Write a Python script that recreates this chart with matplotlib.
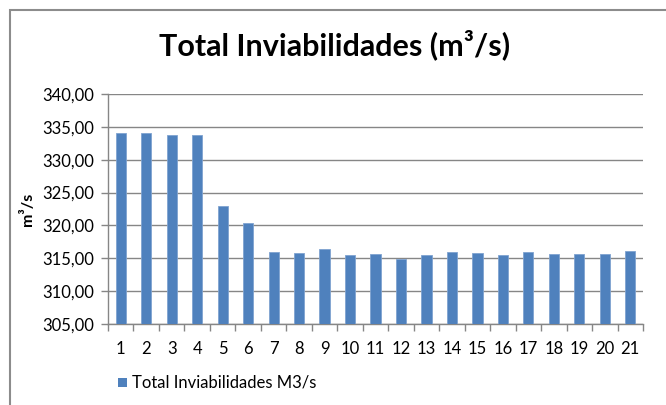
import numpy as np
import matplotlib.pyplot as plt
from matplotlib.patches import Rectangle
from matplotlib.ticker import FixedLocator, FuncFormatter

# data
periods = list(range(1, 22))
values = [334.0, 334.0, 333.8, 333.8, 323.0, 320.4, 316.0, 315.8, 316.4, 315.55,
          315.7, 314.95, 315.55, 315.95, 315.8, 315.55, 315.95, 315.7, 315.7, 315.7, 316.1]
y_ticks = [305, 310, 315, 320, 325, 330, 335, 340]

plt.rcParams['font.family'] = ['Lato', 'DejaVu Sans']

W, H = 666, 405
fig = plt.figure(figsize=(W / 100, H / 100), dpi=100)
ax = fig.add_axes([108 / W, 1 - 324 / H, (643 - 108) / W, (324 - 94) / H])

# outer chart border (cut off at right and bottom)
fig.patches.append(Rectangle((10 / W, -0.1), 1.2, 1 - 10 / H + 0.1,
                             transform=fig.transFigure, fill=False,
                             edgecolor='#8c8c8c', lw=1.5))

ax.bar(periods, [v - 305 for v in values], bottom=305, width=0.4,
       color='#4f81bd', edgecolor='#7fa3d0', linewidth=0.6, zorder=3)

ax.set_xlim(0.5, 21.5)
ax.set_ylim(305, 340)
ax.set_yticks(y_ticks)
ax.yaxis.set_major_formatter(FuncFormatter(lambda v, p: f"{v:.2f}".replace('.', ',')))
ax.set_xticks(periods)
ax.xaxis.set_minor_locator(FixedLocator(np.arange(0.5, 22, 1)))
ax.tick_params(axis='x', which='major', length=0, pad=12, labelsize=12, colors='#000000')
ax.tick_params(axis='x', which='minor', length=5, color='#868686', width=1)
ax.tick_params(axis='y', length=5, color='#868686', width=1, labelsize=12, pad=5)
ax.grid(axis='y', color='#868686', lw=1, zorder=0)

for s in ['top', 'right']:
    ax.spines[s].set_visible(False)
for s in ['left', 'bottom']:
    ax.spines[s].set_color('#868686')
    ax.spines[s].set_linewidth(1)

ax.set_ylabel('m³/s', fontsize=11.5, fontweight='bold', labelpad=5)

fig.text(335 / W, 1 - 45 / H, 'Total Inviabilidades (m³/s)', ha='center', va='center',
         fontsize=22, fontweight='bold')

# legend
fig.patches.append(Rectangle((118 / W, 1 - 387 / H), 9 / W, 9 / H,
                             transform=fig.transFigure, facecolor='#4f81bd', edgecolor='none'))
fig.text(132 / W, 1 - 382 / H, 'Total Inviabilidades M3/s', ha='left', va='center', fontsize=12)

fig.savefig('out.png', dpi=100)
